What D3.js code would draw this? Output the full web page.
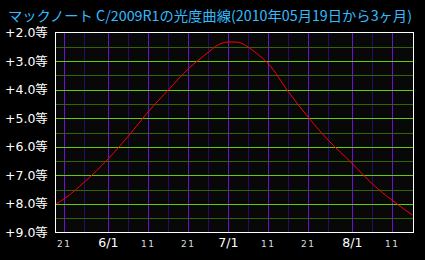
<!DOCTYPE html>
<html>
<head>
<meta charset="utf-8">
<script src="https://cdn.jsdelivr.net/npm/d3@7/dist/d3.min.js"></script>
<style>
  html, body { margin: 0; padding: 0; background: #000; }
  svg { display: block; }
</style>
</head>
<body>
<div id="chart"></div>
<script>
// light curve of comet McNaught C/2009 R1
const dates = ["2010-05-19", "2010-05-21", "2010-05-26", "2010-06-01", "2010-06-06",
  "2010-06-11", "2010-06-16", "2010-06-21", "2010-06-26", "2010-06-28", "2010-07-01",
  "2010-07-03", "2010-07-06", "2010-07-08", "2010-07-11", "2010-07-16", "2010-07-21",
  "2010-07-26", "2010-08-01", "2010-08-06", "2010-08-11", "2010-08-16"];
const mags = [8.00, 7.82, 7.24, 6.42, 5.63, 4.77, 4.01, 3.27, 2.69, 2.47, 2.33,
  2.33, 2.51, 2.72, 3.09, 4.07, 4.97, 5.77, 6.59, 7.30, 7.88, 8.39];

const magTicks = [2, 3, 4, 5, 6, 7, 8, 9];
const halfTicks = [2.5, 3.5, 4.5, 5.5, 6.5, 7.5, 8.5];
const majorDays = ["2010-05-21", "2010-06-01", "2010-06-11", "2010-06-21", "2010-07-01",
  "2010-07-11", "2010-07-21", "2010-08-01", "2010-08-11"];
const minorDays = ["2010-05-26", "2010-06-06", "2010-06-16", "2010-06-26", "2010-07-06",
  "2010-07-16", "2010-07-26", "2010-08-06"];
const dayLabels = ["21", "6/1", "11", "21", "7/1", "11", "21", "8/1", "11"];
const title = "マックノート C/2009R1の光度曲線(2010年05月19日から3ヶ月)";

const W = 425, H = 260;
const parse = d3.timeParse("%Y-%m-%d");

const x = d3.scaleTime()
  .domain([parse("2010-05-19"), parse("2010-08-16")])
  .range([56.3, 412.3]);
const y = d3.scaleLinear().domain([2, 9]).range([32.6, 232.4]);

const svg = d3.select("#chart").append("svg")
  .attr("width", W).attr("height", H);

svg.append("rect").attr("width", W).attr("height", H).attr("fill", "#000");

// plot area
svg.append("rect")
  .attr("x", 55.5).attr("y", 32.5)
  .attr("width", 358).attr("height", 200)
  .attr("fill", "#080808");

const grid = svg.append("g").attr("shape-rendering", "crispEdges");

grid.selectAll(".vmin").data(minorDays).enter().append("line")
  .attr("x1", d => Math.round(x(parse(d))) + 0.5)
  .attr("x2", d => Math.round(x(parse(d))) + 0.5)
  .attr("y1", 33).attr("y2", 232)
  .attr("stroke", "#2c0870");

grid.selectAll(".vmaj").data(majorDays).enter().append("line")
  .attr("x1", d => Math.round(x(parse(d))) + 0.5)
  .attr("x2", d => Math.round(x(parse(d))) + 0.5)
  .attr("y1", 33).attr("y2", 232)
  .attr("stroke", "#6a10d8");

grid.selectAll(".hmin").data(halfTicks).enter().append("line")
  .attr("x1", 56).attr("x2", 413)
  .attr("y1", d => Math.round(y(d)) + 0.5)
  .attr("y2", d => Math.round(y(d)) + 0.5)
  .attr("stroke", "#336600");

grid.selectAll(".hmaj").data(magTicks.slice(1, -1)).enter().append("line")
  .attr("x1", 56).attr("x2", 413)
  .attr("y1", d => Math.round(y(d)) + 0.5)
  .attr("y2", d => Math.round(y(d)) + 0.5)
  .attr("stroke", "#66cc00");

// frame
svg.append("rect")
  .attr("x", 55.5).attr("y", 32.5)
  .attr("width", 358).attr("height", 200)
  .attr("fill", "none").attr("stroke", "#fff")
  .attr("shape-rendering", "crispEdges");

// curve
const pts = dates.map((d, i) => ({ date: parse(d), mag: mags[i] }));
const line = d3.line()
  .x(d => x(d.date))
  .y(d => y(d.mag))
  .curve(d3.curveMonotoneX);

svg.append("path")
  .datum(pts)
  .attr("d", line)
  .attr("fill", "none")
  .attr("stroke", "#ff0000")
  .attr("stroke-width", 1);

// y labels
svg.selectAll(".ylab").data(magTicks).enter().append("text")
  .attr("x", 5)
  .attr("y", d => y(d) + 4.5)
  .attr("fill", "#fff")
  .attr("font-family", "'DejaVu Sans', 'Noto Sans CJK JP', sans-serif")
  .attr("font-size", 12.5)
  .text(d => "+" + d.toFixed(1) + "等");

// x labels
svg.selectAll(".xlab").data(majorDays).enter().append("text")
  .attr("x", d => x(parse(d)))
  .attr("y", 247)
  .attr("text-anchor", "middle")
  .attr("fill", (d, i) => dayLabels[i].includes("/") ? "#fff" : "#ddd")
  .attr("font-family", "'DejaVu Sans', sans-serif")
  .attr("font-size", (d, i) => dayLabels[i].includes("/") ? 12.5 : 9)
  .attr("letter-spacing", (d, i) => dayLabels[i].includes("/") ? 0 : 1.5)
  .text((d, i) => dayLabels[i]);

// title
svg.append("text")
  .attr("x", 8).attr("y", 20.5)
  .attr("fill", "#33bbff")
  .attr("font-family", "'Noto Sans CJK JP', sans-serif")
  .attr("font-size", 14)
  .attr("textLength", 404)
  .attr("lengthAdjust", "spacingAndGlyphs")
  .text(title);
</script>
</body>
</html>
